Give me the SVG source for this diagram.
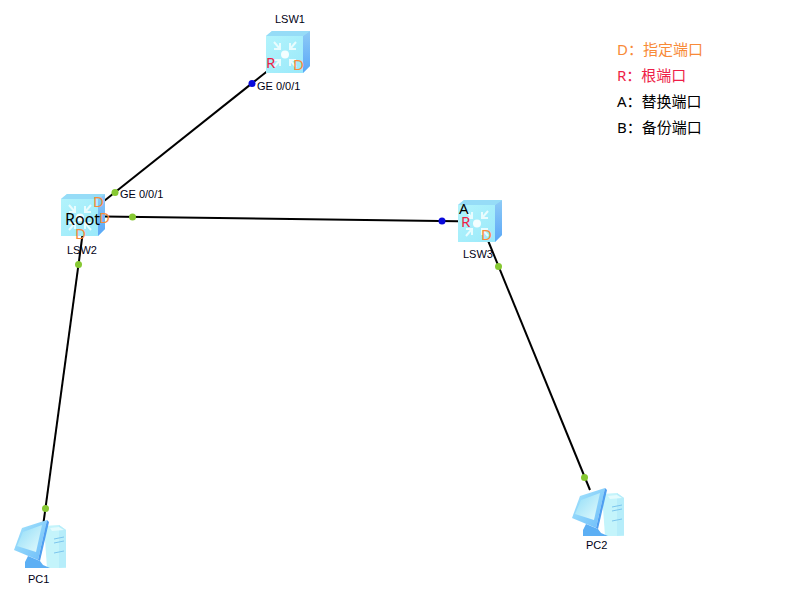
<svg xmlns="http://www.w3.org/2000/svg" width="807" height="595" viewBox="0 0 807 595">
<style>
.lbl{font:11px "Liberation Sans",Arial,sans-serif;fill:#000014}
.pt{font:15px "Noto Sans",sans-serif}
.d{fill:#f88a38}.r{fill:#ee1e48}
.leg{font:15px "Noto Sans","Noto Sans CJK SC",sans-serif}
.link{stroke:#000;stroke-width:2;fill:none}
</style>
<defs>
<linearGradient id="f" x1="0" y1="0" x2="1" y2="1"><stop offset="0" stop-color="#b4f4fc"/><stop offset="1" stop-color="#98e8fa"/></linearGradient>
<linearGradient id="s" x1="0" y1="0" x2="0" y2="1"><stop offset="0" stop-color="#8ecbf6"/><stop offset="1" stop-color="#5aa6f7"/></linearGradient>
<linearGradient id="m" x1="0" y1="0" x2="1" y2="1"><stop offset="0" stop-color="#a8e6fb"/><stop offset="1" stop-color="#6cbcfa"/></linearGradient>
<linearGradient id="sc" x1="0" y1="0" x2="1" y2="1"><stop offset="0" stop-color="#8fdcf8"/><stop offset="1" stop-color="#e4fbfc"/></linearGradient>
<g id="sw">
<path d="M0 5L6 0H44V35L37 42H0Z" fill="url(#f)"/>
<path d="M0 5L6 0H44L37 5Z" fill="#96dcf7"/>
<path d="M37 5L44 0V35L37 42Z" fill="url(#s)"/>
<g stroke="#e8fcfe" stroke-width="2" fill="none">
<path d="M8 11L14 18M14 12V18H8M30 11L24 18M24 12V18H30M8 36L14 29M8 29H14V35M30 36L24 29M30 29H24V35"/>
</g>
<circle cx="19" cy="23.500" r="4" fill="#f4feff"/>
</g>
<g id="pc">
<path d="M30 6L45 5L52 10V48L33 48Z" fill="#c4f4fb"/>
<path d="M45 5L52 10V47L45 48Z" fill="#b6edfa"/>
<path d="M36 8L45 7L50 10L38 11Z" fill="#e4fbfd"/>
<path d="M40 19L50 17M40 23L50 21M40 33L50 31" stroke="#7cc6ee" stroke-width="1"/>
<path d="M8 8L33 0L24 40L0 30Z" fill="url(#m)"/>
<path d="M9 12L28 5L22 32L3 26Z" fill="url(#sc)"/>
<path d="M33 0L35 2L26 41L24 40Z" fill="#4f9ff0"/>
<path d="M14 36L26 41L29 45L36 48H11V42Z" fill="#5cafF4"/>
</g>
</defs>
<g id="connectors">
<path class="link" d="M270 69L99 205"/>
<path class="link" d="M104 216.600L458 221.200"/>
<path class="link" d="M82.500 235L43.600 522"/>
<path class="link" d="M487 238L590 490"/>
<circle cx="252" cy="83.500" r="3.500" fill="#0a0adc"/>
<circle cx="115" cy="192.500" r="3.500" fill="#86c832"/>
<circle cx="132.500" cy="217" r="3.500" fill="#86c832"/>
<circle cx="442" cy="221" r="3.500" fill="#0a0adc"/>
<circle cx="78.500" cy="264.500" r="3.500" fill="#86c832"/>
<circle cx="45.500" cy="508.500" r="3.500" fill="#86c832"/>
<circle cx="498.500" cy="266.500" r="3.500" fill="#86c832"/>
<circle cx="584.500" cy="477.500" r="3.500" fill="#86c832"/>
</g>
<g id="LSW1">
<use href="#sw" x="266" y="31"/>
<text class="lbl" x="275" y="23">LSW1</text>
<text class="pt r" x="266" y="68">R</text>
<text class="pt d" x="293" y="70">D</text>
<text class="lbl" x="257" y="90">GE 0/0/1</text>
</g>
<g id="LSW2">
<use href="#sw" x="61" y="194"/>
<text class="lbl" x="67" y="254">LSW2</text>
<text class="pt d" x="93" y="207">D</text>
<text class="pt d" x="99" y="223">D</text>
<text class="pt d" x="75" y="239">D</text>
<text x="65" y="225" style="font:16px 'Noto Sans',sans-serif" fill="#000">Root</text>
<text class="lbl" x="120" y="198">GE 0/0/1</text>
</g>
<g id="LSW3">
<use href="#sw" x="458" y="200"/>
<text class="lbl" x="463" y="258">LSW3</text>
<text class="pt" x="459" y="214" fill="#000">A</text>
<text class="pt r" x="461" y="227">R</text>
<text class="pt d" x="481" y="240">D</text>
</g>
<g id="PC1">
<use href="#pc" x="14" y="520"/>
<text class="lbl" x="28" y="583">PC1</text>
</g>
<g id="PC2">
<use href="#pc" x="572" y="488"/>
<text class="lbl" x="586" y="549">PC2</text>
</g>
<g id="legend">
<text class="leg" x="617" y="55" fill="#f88a38">D：指定端口</text>
<text class="leg" x="617" y="81" fill="#ee1e48">R：根端口</text>
<text class="leg" x="617" y="107" fill="#000">A：替换端口</text>
<text class="leg" x="617" y="133" fill="#000">B：备份端口</text>
</g>
</svg>
